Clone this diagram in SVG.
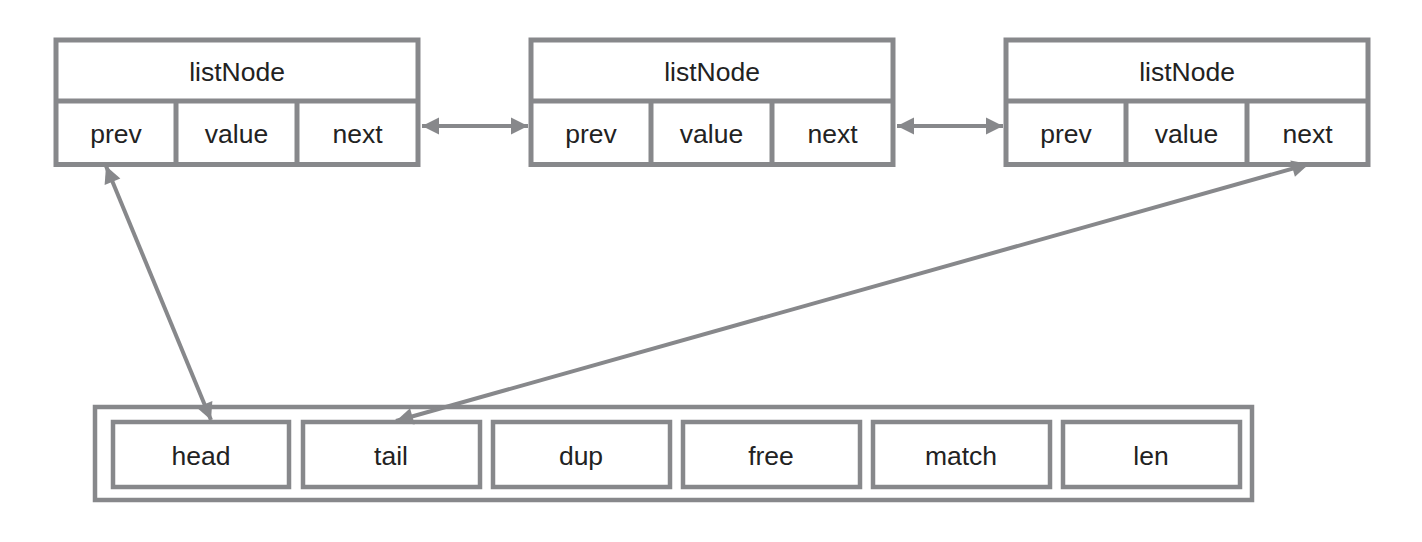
<svg xmlns="http://www.w3.org/2000/svg" width="1422" height="542" viewBox="0 0 1422 542">
<style>
.box{fill:#fff;stroke:#87888b;stroke-width:5}
.ibox{fill:#fff;stroke:#87888b;stroke-width:4.5}
.t{font-family:"Liberation Sans","Helvetica Neue",Arial,sans-serif;font-size:26.5px;fill:#222;text-anchor:middle;dominant-baseline:central}
.conn{stroke:#87888b;stroke-width:4;fill:none;marker-start:url(#ah);marker-end:url(#ah)}
</style>
<defs>
<marker id="ah" markerUnits="userSpaceOnUse" markerWidth="20" markerHeight="20" viewBox="0 0 20 20" refX="18" refY="10" orient="auto-start-reverse">
<path d="M1,1.5 L18,10 L1,18.5 Z" fill="#87888b"/>
</marker>
</defs>
<g id="node1">
<rect class="box" x="56" y="40" width="362" height="124.5"/>
<line x1="56" y1="101" x2="418" y2="101" stroke="#87888b" stroke-width="5"/>
<line x1="176" y1="101" x2="176" y2="164" stroke="#87888b" stroke-width="5"/>
<line x1="297" y1="101" x2="297" y2="164" stroke="#87888b" stroke-width="5"/>
<text class="t" x="237" y="72">listNode</text>
<text class="t" x="116" y="134">prev</text>
<text class="t" x="236.5" y="134">value</text>
<text class="t" x="357.5" y="134">next</text>
</g>
<g id="node2">
<rect class="box" x="531" y="40" width="362" height="124.5"/>
<line x1="531" y1="101" x2="893" y2="101" stroke="#87888b" stroke-width="5"/>
<line x1="651" y1="101" x2="651" y2="164" stroke="#87888b" stroke-width="5"/>
<line x1="772" y1="101" x2="772" y2="164" stroke="#87888b" stroke-width="5"/>
<text class="t" x="712" y="72">listNode</text>
<text class="t" x="591" y="134">prev</text>
<text class="t" x="711.5" y="134">value</text>
<text class="t" x="832.5" y="134">next</text>
</g>
<g id="node3">
<rect class="box" x="1006" y="40" width="362" height="124.5"/>
<line x1="1006" y1="101" x2="1368" y2="101" stroke="#87888b" stroke-width="5"/>
<line x1="1126" y1="101" x2="1126" y2="164" stroke="#87888b" stroke-width="5"/>
<line x1="1247" y1="101" x2="1247" y2="164" stroke="#87888b" stroke-width="5"/>
<text class="t" x="1187" y="72">listNode</text>
<text class="t" x="1066" y="134">prev</text>
<text class="t" x="1186.5" y="134">value</text>
<text class="t" x="1307.5" y="134">next</text>
</g>
<g id="list">
<rect class="ibox" x="95" y="407" width="1157" height="93"/>
<g id="head"><rect class="ibox" x="113" y="422" width="176" height="65"/><text class="t" x="201" y="456">head</text></g>
<g id="tail"><rect class="ibox" x="303" y="422" width="177" height="65"/><text class="t" x="391" y="456">tail</text></g>
<g id="dup"><rect class="ibox" x="493" y="422" width="177" height="65"/><text class="t" x="581" y="456">dup</text></g>
<g id="free"><rect class="ibox" x="683" y="422" width="177" height="65"/><text class="t" x="771" y="456">free</text></g>
<g id="match"><rect class="ibox" x="873" y="422" width="177" height="65"/><text class="t" x="961" y="456">match</text></g>
<g id="len"><rect class="ibox" x="1063" y="422" width="177" height="65"/><text class="t" x="1151" y="456">len</text></g>
</g>
<g id="connectors">
<line class="conn" x1="422" y1="126" x2="528" y2="126"/>
<line class="conn" x1="897" y1="126" x2="1003" y2="126"/>
<line class="conn" x1="106" y1="166" x2="211" y2="420"/>
<line class="conn" x1="1309" y1="164" x2="396" y2="421"/>
</g>
</svg>
